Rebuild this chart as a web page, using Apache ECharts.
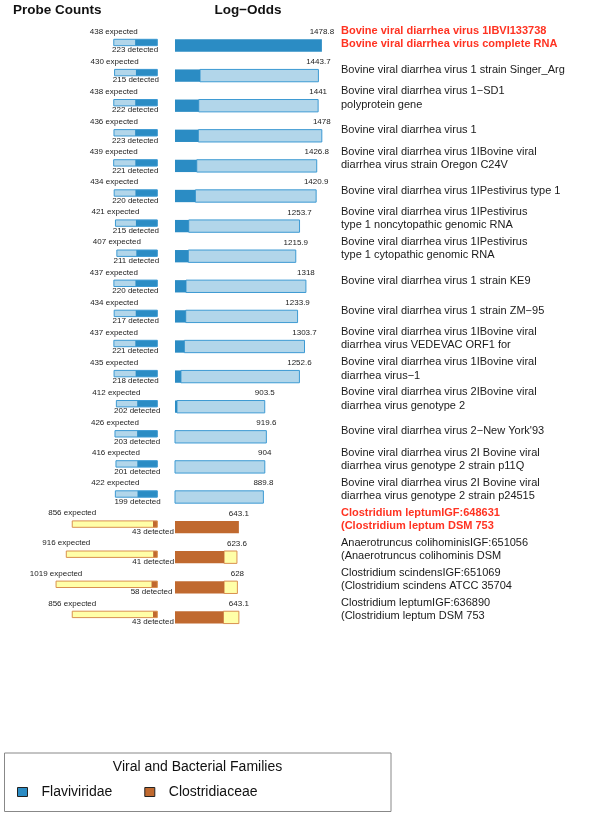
<!DOCTYPE html>
<html>
<head>
<meta charset="UTF-8">
<title>Probe Counts / Log-Odds</title>
<script src="https://cdn.jsdelivr.net/npm/echarts@6/dist/echarts.min.js"></script>
<style>
html,body{margin:0;padding:0;background:#fff;}
#chart{width:600px;height:822px;}
</style>
</head>
<body>
<div id="chart"></div>
<script>
// one entry per row, top to bottom
var names = [
  'Bovine viral diarrhea virus 1IBVI133738\nBovine viral diarrhea virus complete RNA',
  'Bovine viral diarrhea virus 1 strain Singer_Arg',
  'Bovine viral diarrhea virus 1\u2212SD1\npolyprotein gene',
  'Bovine viral diarrhea virus 1',
  'Bovine viral diarrhea virus 1IBovine viral\ndiarrhea virus strain Oregon C24V',
  'Bovine viral diarrhea virus 1IPestivirus type 1',
  'Bovine viral diarrhea virus 1IPestivirus\ntype 1 noncytopathic genomic RNA',
  'Bovine viral diarrhea virus 1IPestivirus\ntype 1 cytopathic genomic RNA',
  'Bovine viral diarrhea virus 1 strain KE9',
  'Bovine viral diarrhea virus 1 strain ZM\u221295',
  'Bovine viral diarrhea virus 1IBovine viral\ndiarrhea virus VEDEVAC ORF1 for',
  'Bovine viral diarrhea virus 1IBovine viral\ndiarrhea virus\u22121',
  'Bovine viral diarrhea virus 2IBovine viral\ndiarrhea virus genotype 2',
  'Bovine viral diarrhea virus 2\u2212New York\'93',
  'Bovine viral diarrhea virus 2I Bovine viral\ndiarrhea virus genotype 2 strain p11Q',
  'Bovine viral diarrhea virus 2I Bovine viral\ndiarrhea virus genotype 2 strain p24515',
  'Clostridium leptumIGF:648631\n(Clostridium leptum DSM 753',
  'Anaerotruncus colihominisIGF:651056\n(Anaerotruncus colihominis DSM',
  'Clostridium scindensIGF:651069\n(Clostridium scindens ATCC 35704',
  'Clostridium leptumIGF:636890\n(Clostridium leptum DSM 753'
];
var expected = [438, 430, 438, 436, 439, 434, 421, 407, 437, 434, 437, 435, 412, 426, 416, 422, 856, 916, 1019, 856];
var detected = [223, 215, 222, 223, 221, 220, 215, 211, 220, 217, 221, 218, 202, 203, 201, 199, 43, 41, 58, 43];
var logOdds = [1478.8, 1443.7, 1441, 1478, 1426.8, 1420.9, 1253.7, 1215.9, 1318, 1233.9, 1303.7, 1252.6, 903.5, 919.6, 904, 889.8, 643.1, 623.6, 628, 643.1];
// dark (shared) part of each log-odds bar
var logOddsCore = [1478.8, 252, 239, 235, 219, 205, 138, 134, 111, 108, 94, 60, 20, 0, 0, 0, 643.1, 494, 494, 487];
var family = [0, 0, 0, 0, 0, 0, 0, 0, 0, 0, 0, 0, 0, 0, 0, 0, 1, 1, 1, 1];
var familyNames = ['Flaviviridae', 'Clostridiaceae'];
var highlightRows = [0, 16];

var pal = [
  {dark: '#2b8cc4', light: '#b2d6ea', edge: '#3d9ad3'},
  {dark: '#c0692f', light: '#ffffa8', edge: '#d9904f'}
];
var FONT = '"Liberation Sans", Arial, Helvetica, sans-serif';

function rowIds() {
  var r = [];
  for (var i = 0; i < names.length; i++) r.push(i);
  return r;
}

function renderProbe(params, api) {
  var row = api.value(1);
  var p = pal[family[row]];
  var c = api.coord([0, row]);
  var xL = api.coord([api.value(0), row])[0];
  var xD = api.coord([api.value(2), row])[0];
  var y = c[1];
  var top = y - 6.2, hh = 6.4;
  return {
    type: 'group',
    children: [
      {type: 'rect', shape: {x: xL, y: top, width: c[0] - xL, height: hh}, style: {fill: p.light}},
      {type: 'rect', shape: {x: xD, y: top, width: c[0] - xD, height: hh}, style: {fill: p.dark}},
      {type: 'rect', shape: {x: xL, y: top, width: c[0] - xL, height: hh}, style: {fill: null, stroke: p.edge, lineWidth: 1}},
      {type: 'text', x: xL, y: y - 14, style: {text: api.value(0) + ' expected', font: '8px ' + FONT, fill: '#222', align: 'center', verticalAlign: 'middle'}},
      {type: 'text', x: xD, y: y + 4.5, style: {text: api.value(2) + ' detected', font: '8px ' + FONT, fill: '#222', align: 'center', verticalAlign: 'middle'}}
    ]
  };
}

function renderLogOdds(params, api) {
  var row = api.value(1);
  var p = pal[family[row]];
  var c = api.coord([0, row]);
  var xEnd = api.coord([api.value(0), row])[0];
  var xCore = api.coord([api.value(2), row])[0];
  var y = c[1];
  var h = api.size([0, 1])[1] * 0.41;
  var cs = params.coordSys;
  var two = names[row].indexOf('\n') >= 0;
  var hi = highlightRows.indexOf(row) >= 0;
  var kids = [];
  if (xEnd - xCore > 0.5) {
    kids.push({type: 'rect', shape: {x: xCore, y: y - h / 2, width: xEnd - xCore, height: h}, style: {fill: p.light, stroke: p.edge, lineWidth: 1}});
  }
  if (xCore - c[0] > 0) {
    kids.push({type: 'rect', shape: {x: c[0], y: y - h / 2, width: xCore - c[0], height: h}, style: {fill: p.dark}});
  }
  kids.push({type: 'text', x: xEnd, y: y - 13.8, style: {text: String(api.value(0)), font: '8px ' + FONT, fill: '#222', align: 'center', verticalAlign: 'middle'}});
  kids.push({type: 'text', x: cs.x + cs.width + 17, y: y - (two ? 7.7 : 5.5), style: {
    text: names[row], font: (hi ? 'bold ' : '') + '11px ' + FONT, lineHeight: 13.3,
    fill: hi ? '#ff3322' : '#1a1a1a', align: 'left', verticalAlign: 'middle'
  }});
  return {type: 'group', children: kids};
}

function famData(fam, vals, extra) {
  var d = [];
  for (var i = 0; i < names.length; i++) {
    if (family[i] == fam) d.push([vals[i], i, extra[i]]);
  }
  return d;
}

var series = [];
for (var f = 0; f < familyNames.length; f++) {
  series.push({
    name: familyNames[f], type: 'custom', xAxisIndex: 0, yAxisIndex: 0,
    itemStyle: {color: pal[f].dark}, clip: false,
    encode: {x: 0, y: 1}, renderItem: renderProbe,
    data: famData(f, expected, detected)
  });
  series.push({
    name: familyNames[f], type: 'custom', xAxisIndex: 1, yAxisIndex: 1,
    itemStyle: {color: pal[f].dark}, clip: false,
    encode: {x: 0, y: 1}, renderItem: renderLogOdds,
    data: famData(f, logOdds, logOddsCore)
  });
}

var chart = echarts.init(document.getElementById('chart'));
chart.setOption({
  animation: false,
  textStyle: {fontFamily: FONT},
  title: [
    {text: 'Probe Counts', left: 13, top: 3, padding: 0, textStyle: {fontSize: 13.5, fontWeight: 'bold', color: '#111'}},
    {text: 'Log\u2212Odds', left: 248, top: 3, padding: 0, textAlign: 'center', textStyle: {fontSize: 13.5, fontWeight: 'bold', color: '#111'}},
    {text: 'Viral and Bacterial Families', left: 197.5, top: 760, padding: 0, textAlign: 'center', textStyle: {fontSize: 14, fontWeight: 'normal', color: '#111'}}
  ],
  legend: {
    data: familyNames, left: 17, top: 785, padding: 0,
    itemWidth: 10, itemHeight: 9, itemGap: 32, icon: 'rect',
    itemStyle: {borderColor: '#222', borderWidth: 1},
    textStyle: {fontSize: 14, color: '#111', padding: [0, 0, 0, 9]}
  },
  graphic: [
    {type: 'rect', shape: {x: 4.5, y: 753, width: 386.5, height: 58.5}, style: {fill: null, stroke: '#888', lineWidth: 1}, silent: true}
  ],
  grid: [
    {left: 48, width: 109.3, top: 30.45, height: 602},
    {left: 175, width: 149, top: 30.45, height: 602}
  ],
  xAxis: [
    {type: 'value', gridIndex: 0, min: 0, max: 1100, inverse: true, show: false},
    {type: 'value', gridIndex: 1, min: 0, max: 1500, show: false}
  ],
  yAxis: [
    {type: 'category', gridIndex: 0, data: rowIds(), inverse: true, show: false},
    {type: 'category', gridIndex: 1, data: rowIds(), inverse: true, show: false}
  ],
  series: series
});
</script>
</body>
</html>
